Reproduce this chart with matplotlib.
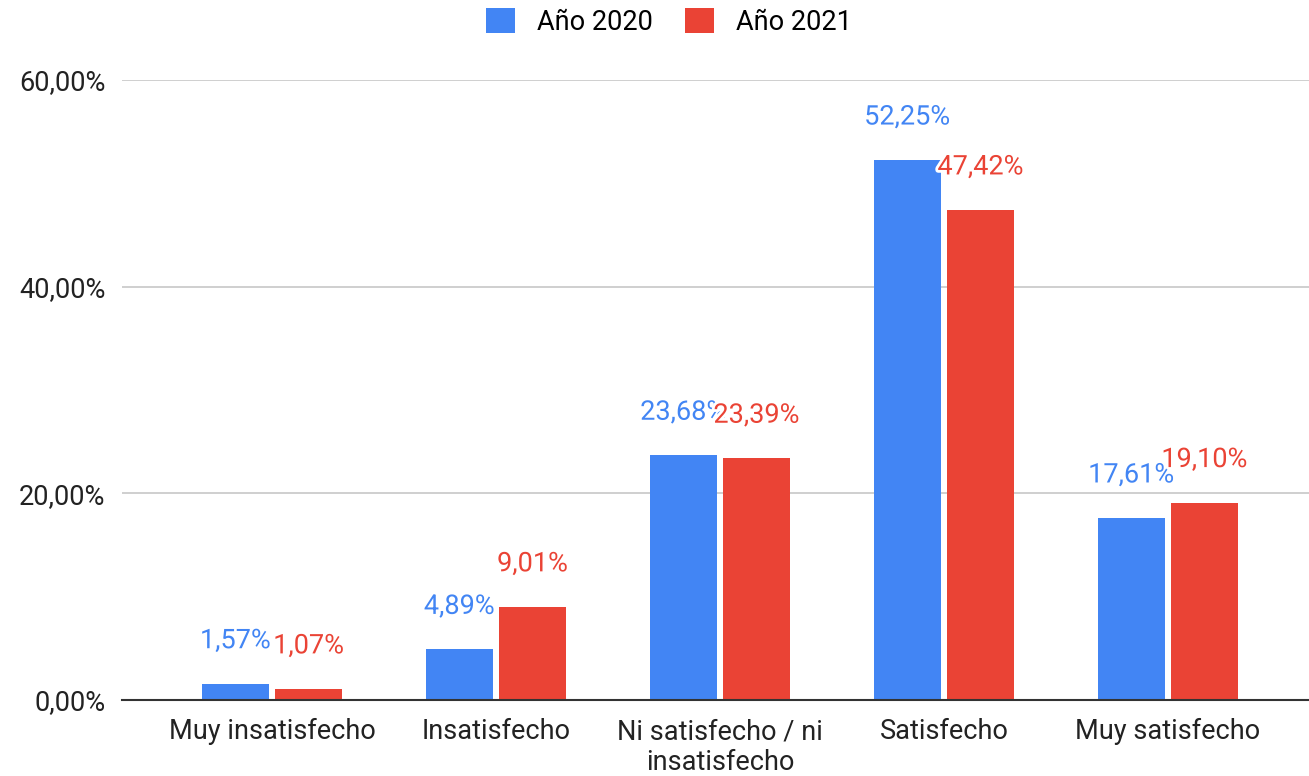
import matplotlib.pyplot as plt
import matplotlib.patheffects as pe
import numpy as np

plt.rcParams['font.family'] = ['Roboto', 'DejaVu Sans']

categorias = ['Muy insatisfecho', 'Insatisfecho', 'Ni satisfecho / ni\ninsatisfecho',
              'Satisfecho', 'Muy satisfecho']
anio_2020 = [1.57, 4.89, 23.68, 52.25, 17.61]
anio_2021 = [1.07, 9.01, 23.39, 47.42, 19.10]
series = ['Año 2020', 'Año 2021']
colores = ['#4285F4', '#EA4335']
yticks = [0, 20, 40, 60]

fig = plt.figure(figsize=(13.09, 7.76), dpi=100)
ax = fig.add_axes([122 / 1309, 1 - 700 / 776, 1 - 122 / 1309, (700 - 80) / 776])

x = np.arange(len(categorias))
w = 0.3
gap = 0.027
off = (w + gap) / 2

for i, (vals, col, nom) in enumerate(zip([anio_2020, anio_2021], colores, series)):
    pos = x + (-off if i == 0 else off)
    ax.bar(pos, vals, width=w, color=col, label=nom, zorder=3)
    for px, v in zip(pos, vals):
        t = ax.annotate(f'{v:.2f}%'.replace('.', ','), (px, v), xytext=(0, 31),
                        textcoords='offset points', ha='center', va='center',
                        color=col, fontsize=19.5, zorder=5, annotation_clip=False)
        t.set_path_effects([pe.withStroke(linewidth=4, foreground='white')])

ax.set_ylim(0, 60)
ax.set_xlim(-0.67, 4.63)
ax.set_yticks(yticks)
ax.set_yticklabels([f'{v:.2f}%'.replace('.', ',') for v in yticks])
ax.set_xticks(x)
ax.set_xticklabels(categorias, linespacing=1.2)
ax.tick_params(axis='both', length=0, labelsize=19.5, colors='#222222')
ax.tick_params(axis='y', pad=12)
ax.tick_params(axis='x', pad=13)
ax.grid(axis='y', color='#cccccc', linewidth=1.3, zorder=0)
for s in ['top', 'right', 'left']:
    ax.spines[s].set_visible(False)
ax.spines['bottom'].set_color('#333333')
ax.spines['bottom'].set_linewidth(1.5)
ax.spines['bottom'].set_zorder(4)

fig.legend(loc='upper center', bbox_to_anchor=(0.511, 1.021), ncol=2, frameon=False,
           fontsize=19.5, handlelength=1.05, handleheight=1.05, columnspacing=1.22,
           handletextpad=0.8)

fig.savefig('out.png', dpi=100)
